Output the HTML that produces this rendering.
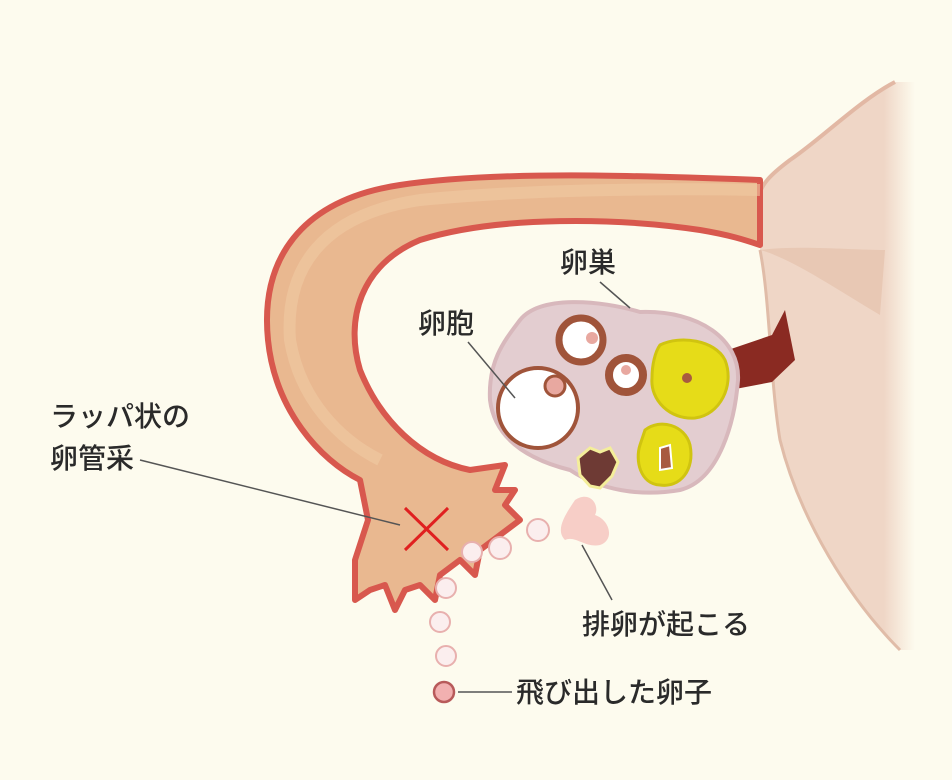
<!DOCTYPE html>
<html><head><meta charset="utf-8"><style>
html,body{margin:0;padding:0;background:#fdfbee;}
svg{display:block}
text{font-family:"Liberation Sans","Noto Sans CJK JP",sans-serif;font-size:28px;fill:#2a2a2a;font-weight:500}
</style></head><body>
<svg width="952" height="780" viewBox="0 0 952 780">
<defs>
<linearGradient id="fade" x1="0" x2="1" y1="0" y2="0">
<stop offset="0" stop-color="#efd6c6"/><stop offset="0.8" stop-color="#efd6c6"/><stop offset="1" stop-color="#fdfbee"/>
</linearGradient>
</defs>
<rect width="952" height="780" fill="#fdfbee"/>
<!-- uterus -->
<path d="M895 82 C860 100 820 140 790 160 C770 175 760 185 758 200 L760 250 C770 300 770 380 780 440 C800 520 850 600 900 650 L915 650 L915 82 Z" fill="url(#fade)"/>
<path d="M895 82 C860 100 820 140 790 160 C770 175 760 185 758 200" fill="none" stroke="#e2b8a4" stroke-width="4"/>
<path d="M760 250 C770 300 770 380 780 440 C800 520 850 600 900 650" fill="none" stroke="#e0bca8" stroke-width="3"/>
<path d="M760 250 C790 258 830 285 880 315 L885 250 C850 250 800 245 760 250Z" fill="#e8c8b4"/>
<!-- tube -->
<path d="M760 180 C650 176 500 170 400 185 C300 200 260 260 268 340 C275 410 320 460 360 480 L368 520 L355 560 L355 600 L370 590 L385 585 L395 610 L405 590 L420 585 L435 600 L440 575 L460 560 L475 575 L480 550 L500 535 L520 520 L505 505 L515 490 L495 490 L505 465 L470 470 C420 460 380 420 360 370 C345 320 360 265 420 240 C500 215 620 218 700 230 C730 235 745 240 760 245 Z" fill="#e9b890" stroke="#d8584e" stroke-width="6" stroke-linejoin="round"/>
<path d="M760 190 C650 188 520 190 420 200 C320 215 285 270 290 340 C300 400 340 440 380 460" fill="none" stroke="#f0c9a3" stroke-width="12" opacity="0.6"/>
<!-- ligament -->
<path d="M728 350 L772 335 L785 310 L795 360 L772 382 L730 390 Z" fill="#8a2a22"/>
<!-- ovary -->
<path d="M520 320 C540 295 600 300 640 312 C700 310 740 340 738 380 C735 420 720 480 680 490 C640 497 600 490 570 470 C530 460 495 440 490 400 C488 360 505 340 520 320Z" fill="#e3cdd0" stroke="#d8b8bc" stroke-width="4"/>
<circle cx="538" cy="408" r="40" fill="#fff" stroke="#a0543a" stroke-width="4"/>
<circle cx="555" cy="386" r="10" fill="#e8a8a0" stroke="#a0543a" stroke-width="3"/>
<circle cx="581" cy="340" r="22" fill="#fff" stroke="#a0543a" stroke-width="7"/>
<circle cx="592" cy="338" r="6" fill="#e8a8a0"/>
<circle cx="626" cy="375" r="17" fill="#fff" stroke="#a0543a" stroke-width="8"/>
<circle cx="626" cy="370" r="5" fill="#e8a8a0"/>
<path d="M660 345 C680 335 715 340 725 360 C735 385 720 415 695 418 C670 420 650 400 652 378 C652 365 655 352 660 345Z" fill="#e6dc18" stroke="#d0c410" stroke-width="3"/>
<circle cx="687" cy="378" r="5" fill="#a85a40"/>
<path d="M645 430 C660 418 685 425 690 445 C695 470 680 488 660 485 C640 484 635 460 640 445Z" fill="#e6dc18" stroke="#d0c410" stroke-width="3"/>
<path d="M660 448 L670 445 L672 468 L660 470 Z" fill="#a85a40" stroke="#fff" stroke-width="2"/>
<path d="M578 458 L590 448 L600 452 L610 448 L618 462 L612 476 L600 488 L590 486 L580 475 Z" fill="#6e3a34" stroke="#f4ee9a" stroke-width="3"/>
<!-- ovulation -->
<path d="M575 500 C590 490 600 505 595 515 C610 520 615 540 600 545 C585 548 575 535 565 540 C555 530 565 515 575 500Z" fill="#f6c6c0" opacity="0.85"/>
<!-- eggs -->
<g fill="#fbeeee" stroke="#e8b0ae" stroke-width="2">
<circle cx="538" cy="530" r="11"/><circle cx="500" cy="548" r="11"/><circle cx="472" cy="552" r="10"/>
<circle cx="446" cy="588" r="10"/><circle cx="440" cy="622" r="10"/><circle cx="446" cy="656" r="10"/>
</g>
<circle cx="444" cy="692" r="10" fill="#f2b0b0" stroke="#b85a5a" stroke-width="2.5"/>
<!-- X -->
<path d="M405 508 L448 550 M448 508 L405 550" stroke="#e02020" stroke-width="3"/>
<!-- lines -->
<g stroke="#555" stroke-width="1.5">
<line x1="600" y1="282" x2="630" y2="308"/>
<line x1="468" y1="342" x2="515" y2="398"/>
<line x1="140" y1="460" x2="400" y2="525"/>
<line x1="582" y1="545" x2="612" y2="600"/>
<line x1="458" y1="692" x2="512" y2="692"/>
</g>
<text x="560" y="272">卵巣</text>
<text x="418" y="333">卵胞</text>
<text x="50" y="426">ラッパ状の</text>
<text x="50" y="468">卵管采</text>
<text x="582" y="634">排卵が起こる</text>
<text x="516" y="702">飛び出した卵子</text>
</svg>
</body></html>
